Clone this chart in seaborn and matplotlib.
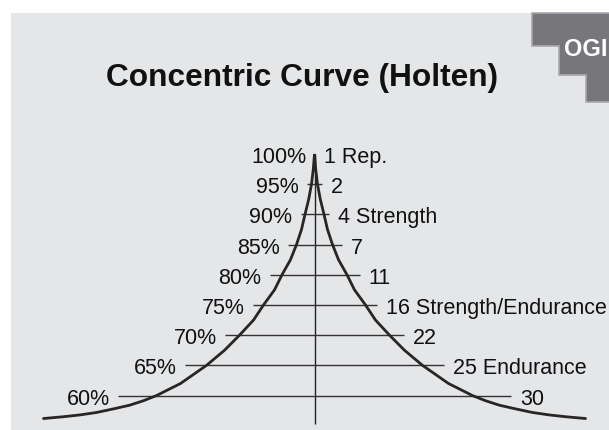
import pandas as pd
import seaborn as sns
import matplotlib.pyplot as plt
from matplotlib.patches import Rectangle, Polygon

# intensity levels (% of max) with the matching repetitions
levels = [100, 95, 90, 85, 80, 75, 70, 65, 60]
level_labels = ['100%', '95%', '90%', '85%', '80%', '75%', '70%', '65%', '60%']
rep_labels = ['1 Rep.', '2', '4 Strength', '7', '11', '16 Strength/Endurance',
              '22', '25 Endurance', '30']
# half length of the guide line at each level
guide_half = [0, 7.5, 14, 27, 45, 62, 89.5, 129.5, 196.5]

# one branch of the concentric curve (level, distance from centre)
curve_pct = [56.2, 56.5, 56.8, 57.2, 57.8, 58.4, 59.15, 60, 62, 65, 67.5, 70, 72.5,
             75, 77.5, 80, 82.5, 85, 87.5, 90, 92.5, 95, 97.5, 100]
curve_width = [271, 251, 234.5, 218, 201, 185, 171, 158, 134, 108, 90, 75, 61,
               51, 40, 32.5, 24, 18, 13, 9.5, 5.8, 3, 1.2, 0]

sns.set_style('white')
plt.rcParams['font.family'] = ['Liberation Sans', 'DejaVu Sans']

W, H = 609, 431
fig = plt.figure(figsize=(W / 100, H / 100), dpi=100)
fig.patch.set_facecolor('white')

# grey panel
fig.patches.append(Rectangle((11 / W, 0), 1 - 11 / W, 1 - 14 / H, transform=fig.transFigure,
                             facecolor='#e5e6e8', edgecolor='none', zorder=-1))

# stepped logo box in the corner
steps = [(531.5, 14), (531.5, 46.5), (558.5, 46.5), (558.5, 76), (586, 76),
         (586, 102.5), (612, 102.5), (612, 14)]
fig.patches.append(Polygon([(x / W, 1 - y / H) for x, y in steps], closed=True,
                           transform=fig.transFigure, facecolor='#77777b',
                           edgecolor='#a9a9ad', linewidth=1.2, zorder=1))
fig.text(564 / W, 1 - 49 / H, 'OGI', color='white', fontsize=17, fontweight='bold',
         ha='left', va='center', zorder=2)

fig.text(302.5 / W, 1 - 78 / H, 'Concentric Curve (Holten)', fontsize=22.8,
         fontweight='bold', ha='center', va='center', color='#111111')

ax = fig.add_axes([0, 0, 1, 1])
ax.set_xlim(-314.5, W - 314.5)
ax.set_ylim(54.30, 125.66)
ax.axis('off')

# curve: left branch up to the peak, then the mirrored right branch
left = pd.DataFrame({'x': [-w for w in curve_width], 'y': curve_pct})
right = pd.DataFrame({'x': curve_width[::-1], 'y': curve_pct[::-1]})
curve = pd.concat([left, right.iloc[1:]], ignore_index=True)
sns.lineplot(data=curve, x='x', y='y', sort=False, estimator=None, ax=ax,
             color='#2a2424', linewidth=2.0, solid_joinstyle='miter', zorder=4)

# centre axis
ax.vlines(0, 55.3, 100, color='#222222', linewidth=1.0, zorder=3)

# guide lines and labels
for lvl, half, ltxt, rtxt in zip(levels, guide_half, level_labels, rep_labels):
    if half > 0:
        ax.hlines(lvl, -half, half, color='#333333', linewidth=1.0, zorder=3)
    ax.text(-half - 8, lvl, ltxt, ha='right', va='center_baseline', fontsize=15.5,
            color='#111111')
    ax.text(half + 9, lvl, rtxt, ha='left', va='center_baseline', fontsize=15.5,
            color='#111111')

fig.savefig('out.png', dpi=100)
